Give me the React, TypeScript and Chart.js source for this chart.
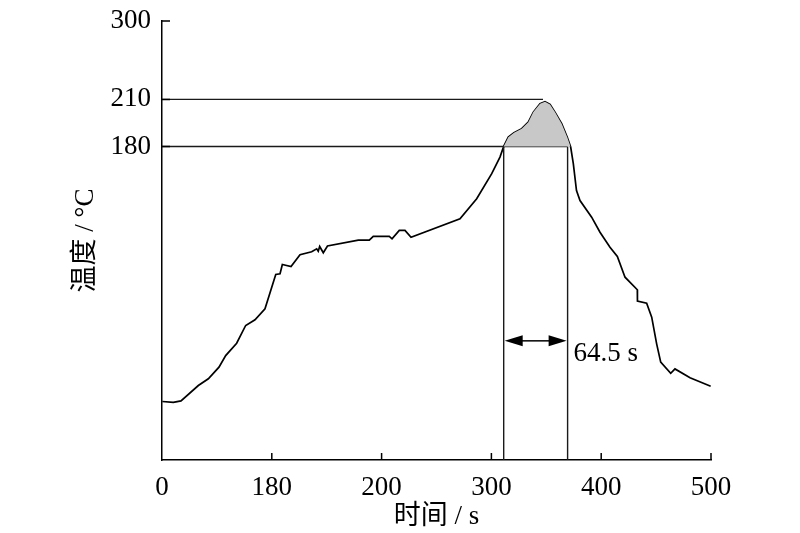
import React, { useEffect, useRef } from 'react';
import { Chart, registerables } from 'chart.js';

Chart.register(...registerables);

// Temperature profile (time in s, temperature in the axis' own units)
const timeS = [
  0.3, 10.3, 17.3, 33.1, 42.2, 51.9, 58.0, 68.0, 76.2, 84.7, 93.8, 103.6, 107.5, 109.6, 117.5,
  125.7, 136.3, 140.9, 142.3, 143.6, 146.9, 150.7, 178.8, 188.8, 192.4, 207.0, 209.5, 216.1,
  221.3, 226.8, 271.4, 286.6, 300.3, 307.8, 311.2, 315.4, 320.6, 327.6, 333.6, 338.2, 344.3,
  348.8, 353.4, 357.9, 364.0, 369.1, 372.2, 374.6, 377.5, 380.7, 391.3, 398.9, 408.0, 414.7,
  421.7, 432.9, 433.0, 441.4, 446.0, 450.5, 454.2, 463.3, 467.2, 480.9, 499.7,
];
const tempC = [
  17.3, 16.8, 17.7, 27.5, 31.8, 39.2, 46.6, 54.5, 65.8, 69.4, 76.4, 98.3, 98.8, 104.7, 103.4,
  110.9, 112.8, 114.7, 113.2, 116.2, 112.2, 116.5, 120.2, 120.2, 122.6, 122.6, 121.1, 126.4,
  126.4, 122.1, 133.9, 146.6, 162.6, 173.2, 180.0, 185.9, 188.7, 191.3, 195.5, 201.9, 207.2,
  208.5, 206.8, 201.9, 194.5, 185.9, 179.6, 169.0, 151.9, 145.5, 134.9, 125.3, 115.7, 109.8,
  96.6, 88.6, 81.3, 80.0, 71.1, 54.1, 42.4, 35.3, 38.1, 32.4, 27.0,
];

// Reference lines
const refTemps = [180, 210];
const refLineEnds = [369.4, 347.0];
const windowStart = 311.2;
const windowEnd = 369.4;
const arrowTemp = 56;
const windowLabel = '64.5 s';

// Axes
const xTickValues = [0, 100, 200, 300, 400, 500];
const xTickLabels = ['0', '180', '200', '300', '400', '500'];
const yTickValues = [180, 210, 260];
const yTickLabels = ['180', '210', '300'];
const xTitle = '时间 / s';
const yTitle = '温度 / °C';

const FONT = "'Liberation Serif', 'Noto Sans CJK SC', serif";
const FS = 27;

export default function App() {
  const ref = useRef<HTMLCanvasElement>(null);

  useEffect(() => {
    const canvas = ref.current;
    if (!canvas) return;
    const yMin = -20;
    const yMax = 260;

    const curve = timeS.map((x, i) => ({ x, y: tempC[i] }));
    const peak = curve.filter((p) => p.x >= windowStart && p.x <= windowEnd + 3);

    const lineDs = (pts: { x: number; y: number }[]) => ({
      data: pts,
      borderColor: '#1a1a1a',
      borderWidth: 1.4,
      pointRadius: 0,
      fill: false,
      tension: 0,
    });

    const overlay = {
      id: 'overlay',
      afterDatasetsDraw(chart: any) {
        const { ctx, scales } = chart;
        const xs = scales.x;
        const ys = scales.y;
        const bottom = ys.getPixelForValue(yMin);
        const left = xs.getPixelForValue(0);
        ctx.save();
        ctx.strokeStyle = '#000';
        ctx.lineWidth = 1.5;
        // inward ticks
        ctx.beginPath();
        xTickValues.forEach((v) => {
          if (v === 0) return;
          const px = xs.getPixelForValue(v);
          ctx.moveTo(px, bottom);
          ctx.lineTo(px, bottom - 7);
        });
        yTickValues.forEach((v) => {
          const py = ys.getPixelForValue(v);
          ctx.moveTo(left, py);
          ctx.lineTo(left + 8, py);
        });
        ctx.stroke();

        // double arrow
        const ay = ys.getPixelForValue(arrowTemp);
        const ax1 = xs.getPixelForValue(windowStart);
        const ax2 = xs.getPixelForValue(windowEnd);
        const hl = 18;
        const hw = 5.5;
        ctx.lineWidth = 1.5;
        ctx.beginPath();
        ctx.moveTo(ax1 + hl, ay);
        ctx.lineTo(ax2 - hl, ay);
        ctx.stroke();
        ctx.fillStyle = '#000';
        ctx.beginPath();
        ctx.moveTo(ax1 + 1, ay);
        ctx.lineTo(ax1 + hl + 1, ay - hw);
        ctx.lineTo(ax1 + hl + 1, ay + hw);
        ctx.closePath();
        ctx.fill();
        ctx.beginPath();
        ctx.moveTo(ax2 - 1, ay);
        ctx.lineTo(ax2 - hl - 1, ay - hw);
        ctx.lineTo(ax2 - hl - 1, ay + hw);
        ctx.closePath();
        ctx.fill();

        ctx.font = `${FS}px ${FONT}`;
        ctx.textAlign = 'left';
        ctx.textBaseline = 'alphabetic';
        ctx.fillText(windowLabel, ax2 + 6, ay + 20);
        ctx.restore();
      },
    };

    const chart = new Chart(canvas, {
      type: 'line',
      data: {
        datasets: [
          {
            data: peak,
            borderWidth: 0,
            borderColor: 'rgba(0,0,0,0)',
            backgroundColor: '#c8c8c8',
            pointRadius: 0,
            fill: { value: refTemps[0] },
            tension: 0,
          },
          lineDs([
            { x: 0, y: refTemps[0] },
            { x: refLineEnds[0], y: refTemps[0] },
          ]),
          lineDs([
            { x: 0, y: refTemps[1] },
            { x: refLineEnds[1], y: refTemps[1] },
          ]),
          lineDs([
            { x: windowStart, y: yMin },
            { x: windowStart, y: refTemps[0] },
          ]),
          lineDs([
            { x: windowEnd, y: yMin },
            { x: windowEnd, y: refTemps[0] },
          ]),
          {
            data: curve,
            borderColor: '#000',
            borderWidth: 1.7,
            pointRadius: 0,
            fill: false,
            tension: 0,
          },
        ],
      },
      options: {
        animation: false,
        responsive: false,
        events: [],
        layout: { padding: { top: 21, right: 89, left: 0, bottom: 0 } },
        plugins: {
          legend: { display: false },
          tooltip: { enabled: false },
        },
        scales: {
          x: {
            type: 'linear',
            min: 0,
            max: 500,
            afterBuildTicks: (s: any) => {
              s.ticks = xTickValues.map((v) => ({ value: v }));
            },
            afterFit: (s: any) => {
              s.height = 73;
            },
            grid: { display: false, drawTicks: false },
            border: { display: true, color: '#000', width: 1.5 },
            ticks: {
              padding: 12,
              color: '#000',
              maxRotation: 0,
              font: { family: FONT, size: FS },
              callback: (v: any) => {
                const i = xTickValues.indexOf(Number(v));
                return i >= 0 ? xTickLabels[i] : '';
              },
            },
            title: {
              display: true,
              text: xTitle,
              color: '#000',
              font: { family: FONT, size: FS },
              padding: { top: 0, bottom: 0 },
            },
          },
          y: {
            type: 'linear',
            min: yMin,
            max: yMax,
            afterBuildTicks: (s: any) => {
              s.ticks = yTickValues.map((v) => ({ value: v }));
            },
            afterFit: (s: any) => {
              s.width = 162;
              s.paddingTop = 0;
              s.paddingBottom = 0;
            },
            grid: { display: false, drawTicks: false },
            border: { display: true, color: '#000', width: 1.5 },
            ticks: {
              padding: 11,
              color: '#000',
              font: { family: FONT, size: FS },
              callback: (v: any) => {
                const i = yTickValues.indexOf(Number(v));
                return i >= 0 ? yTickLabels[i] : '';
              },
            },
            title: {
              display: true,
              text: yTitle,
              color: '#000',
              font: { family: FONT, size: FS },
              padding: { top: 70, bottom: 0 },
            },
          },
        },
      },
      plugins: [overlay],
    } as any);

    return () => chart.destroy();
  }, []);

  return (
    <div style={{ position: 'absolute', left: 0, top: 0, width: 800, height: 533, background: '#fff' }}>
      <canvas ref={ref} width={800} height={533} style={{ width: 800, height: 533, display: 'block' }} />
    </div>
  );
}
